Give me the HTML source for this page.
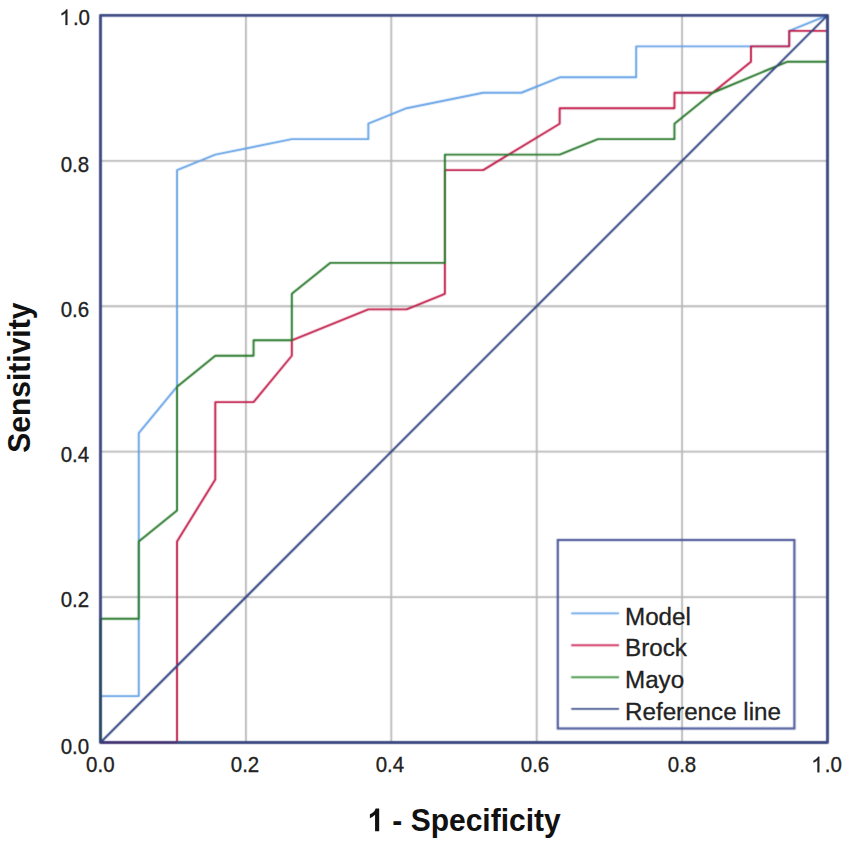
<!DOCTYPE html>
<html><head><meta charset="utf-8">
<style>
html,body{margin:0;padding:0;background:#fff;}
body{width:851px;height:854px;overflow:hidden;position:relative;}
svg{position:absolute;left:0;top:0;}
text{font-family:"Liberation Sans",sans-serif;fill:#222;}
.tk text,.lg text{stroke:#222;stroke-width:0.3px;}
</style></head><body>
<svg width="851" height="854" viewBox="0 0 851 854">
<defs><filter id="c" x="0" y="0" width="851" height="854" filterUnits="userSpaceOnUse" color-interpolation-filters="sRGB"><feConvolveMatrix order="3" kernelMatrix="1 4 1 4 16 4 1 4 1" edgeMode="none"/></filter></defs>
<rect x="0" y="0" width="851" height="854" fill="#fff"/>
<g filter="url(#c)">
<rect x="0" y="0" width="851" height="854" fill="#fff"/>
<g stroke="#b8b8b8" stroke-width="1.8" fill="none">
<line x1="245.90" y1="15.40" x2="245.90" y2="742.50"/>
<line x1="100.50" y1="597.08" x2="827.50" y2="597.08"/>
<line x1="391.30" y1="15.40" x2="391.30" y2="742.50"/>
<line x1="100.50" y1="451.66" x2="827.50" y2="451.66"/>
<line x1="536.70" y1="15.40" x2="536.70" y2="742.50"/>
<line x1="100.50" y1="306.24" x2="827.50" y2="306.24"/>
<line x1="682.10" y1="15.40" x2="682.10" y2="742.50"/>
<line x1="100.50" y1="160.82" x2="827.50" y2="160.82"/>
</g>
<g fill="none" stroke-width="1.9" stroke-linejoin="round" stroke-linecap="butt">
<polyline points="100.50,742.50 100.50,696.09 138.76,696.09 138.76,433.10 177.03,386.69 177.03,170.10 215.29,154.63 291.82,139.16 368.34,139.16 368.34,123.69 406.61,108.22 483.13,92.75 521.39,92.75 559.66,77.28 636.18,77.28 636.18,46.34 789.24,46.34 789.24,30.87 827.50,15.40" stroke="#62a0e6"/>
<polyline points="100.50,742.50 177.03,742.50 177.03,541.39 215.29,479.51 215.29,402.16 253.55,402.16 291.82,355.74 291.82,340.27 368.34,309.33 406.61,309.33 444.87,293.86 444.87,170.10 483.13,170.10 559.66,123.69 559.66,108.22 674.45,108.22 674.45,92.75 712.71,92.75 750.97,61.81 750.97,46.34 789.24,46.34 789.24,30.87 827.50,30.87 827.50,15.40" stroke="#bf1444"/>
<polyline points="100.50,742.50 100.50,618.74 138.76,618.74 138.76,541.39 177.03,510.45 177.03,386.69 215.29,355.74 253.55,355.74 253.55,340.27 291.82,340.27 291.82,293.86 330.08,262.92 444.87,262.92 444.87,154.63 559.66,154.63 597.92,139.16 674.45,139.16 674.45,123.69 712.71,92.75 787.00,61.81 827.50,61.81 827.50,15.40" stroke="#237526"/>
</g>
<rect x="100.5" y="15.4" width="727.00" height="727.10" fill="none" stroke="#3d4a82" stroke-width="2.9" stroke-linejoin="round"/>
<line x1="100.50" y1="742.50" x2="177.03" y2="742.50" stroke="#4a2f70" stroke-width="2"/>
<line x1="100.50" y1="742.50" x2="100.50" y2="618.74" stroke="#24485a" stroke-width="2"/>
<line x1="100.5" y1="742.5" x2="827.5" y2="15.4" stroke="#30427f" stroke-width="2.0"/>
<rect x="557.8" y="540" width="236.6" height="188.5" fill="none" stroke="#4f5b9c" stroke-width="2.2"/>
<line x1="571.2" y1="613.40" x2="619" y2="613.40" stroke="#66a4ea" stroke-width="1.9"/>
<line x1="571.2" y1="645.30" x2="619" y2="645.30" stroke="#d23a66" stroke-width="1.9"/>
<line x1="571.2" y1="677.30" x2="619" y2="677.30" stroke="#4e9850" stroke-width="1.9"/>
<line x1="571.2" y1="708.90" x2="619" y2="708.90" stroke="#43548f" stroke-width="1.9"/>
</g>
</svg>
<svg width="851" height="854" viewBox="0 0 851 854">
<g class="lg" style="font-size:24.2px">
<text x="625" y="624.70">Model</text>
<text x="625" y="655.50">Brock</text>
<text x="625" y="687.90">Mayo</text>
<text x="625" y="720.30">Reference line</text>
</g>
<g class="tk" style="font-size:20.5px" text-anchor="end">
<text transform="translate(89.20,753.80) scale(1,1.1)">0.0</text>
<text transform="translate(89.20,606.80) scale(1,1.1)">0.2</text>
<text transform="translate(89.20,462.00) scale(1,1.1)">0.4</text>
<text transform="translate(89.20,316.90) scale(1,1.1)">0.6</text>
<text transform="translate(89.20,172.00) scale(1,1.1)">0.8</text>
<path transform="translate(60.70,25.00) scale(0.01001,-0.01063)" d="M663 0L483 0L483 1147Q418 1085 313 1023Q208 961 90 915L90 1095Q275 1175 388 1276Q501 1377 548 1466L663 1466Z" fill="#222" stroke="#222" stroke-width="30.0"/>
<text transform="translate(72.90,25.00) scale(1,1.1)" text-anchor="start">.0</text>
</g>
<g class="tk" style="font-size:20.5px" text-anchor="middle">
<text transform="translate(100.30,772.30) scale(1,1.1)">0.0</text>
<text transform="translate(245.00,772.30) scale(1,1.1)">0.2</text>
<text transform="translate(389.90,772.30) scale(1,1.1)">0.4</text>
<text transform="translate(535.00,772.30) scale(1,1.1)">0.6</text>
<text transform="translate(682.00,772.30) scale(1,1.1)">0.8</text>
<path transform="translate(812.65,772.30) scale(0.01001,-0.01063)" d="M663 0L483 0L483 1147Q418 1085 313 1023Q208 961 90 915L90 1095Q275 1175 388 1276Q501 1377 548 1466L663 1466Z" fill="#222" stroke="#222" stroke-width="30.0"/>
<text transform="translate(824.85,772.30) scale(1,1.1)" text-anchor="start">.0</text>
</g>
<path transform="translate(367.30,831.3) scale(0.01465,-0.01553)" d="M811 0L530 0L530 1059Q376 915 177 847L177 1101Q282 1135 404 1230Q526 1325 571 1466L811 1466Z" fill="#111"/>
<text transform="translate(392.32,831.3) scale(1,1.06)" x="0" y="0" text-anchor="start" style="font-size:30px;font-weight:bold;fill:#111">- Specificity</text>
<text transform="translate(29.6,377.7) rotate(-90) scale(1,1.06)" x="0" y="0" text-anchor="middle" style="font-size:30px;font-weight:bold;fill:#111">Sensitivity</text>
</svg>
</body></html>
